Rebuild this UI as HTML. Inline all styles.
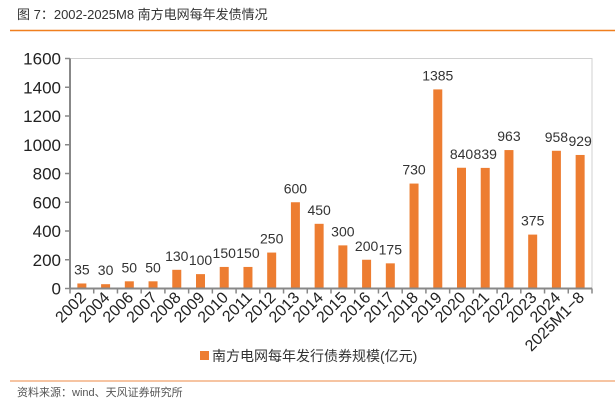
<!DOCTYPE html>
<html><head><meta charset="utf-8"><style>
body{margin:0;background:#fff;width:615px;height:401px;overflow:hidden;font-family:"Liberation Sans","Noto Sans CJK SC",sans-serif;}
</style></head><body>
<svg width="615" height="401" xmlns="http://www.w3.org/2000/svg" font-family="'Liberation Sans','Noto Sans CJK SC',sans-serif">
<text x="17" y="19" font-size="13" fill="#333">图 7：2002-2025M8 南方电网每年发债情况</text>
<line x1="10" y1="30.5" x2="615" y2="30.5" stroke="#F07F1E" stroke-width="1.5"/>
<rect x="70" y="58.5" width="522" height="230" fill="none" stroke="#d0d0d0" stroke-width="1"/>
<g id="yaxis"></g>
<g id="bars"></g>
<g id="xaxis"></g>
<rect x="200" y="351" width="9" height="9" fill="#ED7D31"/>
<text x="212" y="361" font-size="14" fill="#333">南方电网每年发行债券规模(亿元)</text>
<line x1="10" y1="381" x2="615" y2="381" stroke="#F4B183" stroke-width="1.5"/>
<text x="17" y="396" font-size="11" fill="#555">资料来源：wind、天风证券研究所</text>
</svg>
<script>
const categories=["2002","2004","2006","2007","2008","2009","2010","2011","2012","2013","2014","2015","2016","2017","2018","2019","2020","2021","2022","2023","2024","2025M1−8"];
const values=[35,30,50,50,130,100,150,150,250,600,450,300,200,175,730,1385,840,839,963,375,958,929];
const yTicks=[0,200,400,600,800,1000,1200,1400,1600];
const NS="http://www.w3.org/2000/svg";
const L=70,R=592,T=58.5,B=288.5,yMax=1600;
const n=categories.length,bw=(R-L)/n;
const y=v=>B-(v/yMax)*(B-T);
const x=i=>L+bw*(i+0.5);
function mk(tag,attrs,parent){const e=document.createElementNS(NS,tag);for(const k in attrs)e.setAttribute(k,attrs[k]);parent.appendChild(e);return e;}
const ya=document.getElementById('yaxis'),ba=document.getElementById('bars'),xa=document.getElementById('xaxis');
yTicks.forEach(t=>{
 const tl=mk('line',{x1:L-5,x2:L,y1:y(t),y2:y(t),stroke:'#888','stroke-width':1.5},ya);
 
 
 const tx=mk('text',{x:L-9,y:y(t)+6,'font-size':17,fill:'#222','text-anchor':'end'},ya);
 tx.textContent=t;
 
 
});
const al=mk('line',{x1:L,x2:L,y1:T,y2:B,stroke:'#888','stroke-width':2},ya);


const xl=mk('line',{x1:L,x2:R,y1:B,y2:B,stroke:'#888','stroke-width':2},xa);


for(let i=0;i<=n;i++){
 const t=mk('line',{x1:L+bw*i,x2:L+bw*i,y1:B,y2:B+5,stroke:'#888','stroke-width':1.5},xa);
 
 
}
values.forEach((v,i)=>{
 const r=mk('rect',{x:x(i)-4.5,y:y(v),width:9,height:B-y(v),fill:'#ED7D31'},ba);
 
 
 const lb=mk('text',{x:x(i),y:y(v)-9,'font-size':14,fill:'#333','text-anchor':'middle'},ba);
 lb.textContent=v;
 
 
 const cx=x(i)+5,cy=B+10;
 const ct=mk('text',{x:cx,y:cy,'font-size':16,fill:'#222','text-anchor':'end',transform:'rotate(-45 '+cx+' '+cy+')'},xa);
 ct.textContent=categories[i];
 
 
});
</script>
</body></html>
